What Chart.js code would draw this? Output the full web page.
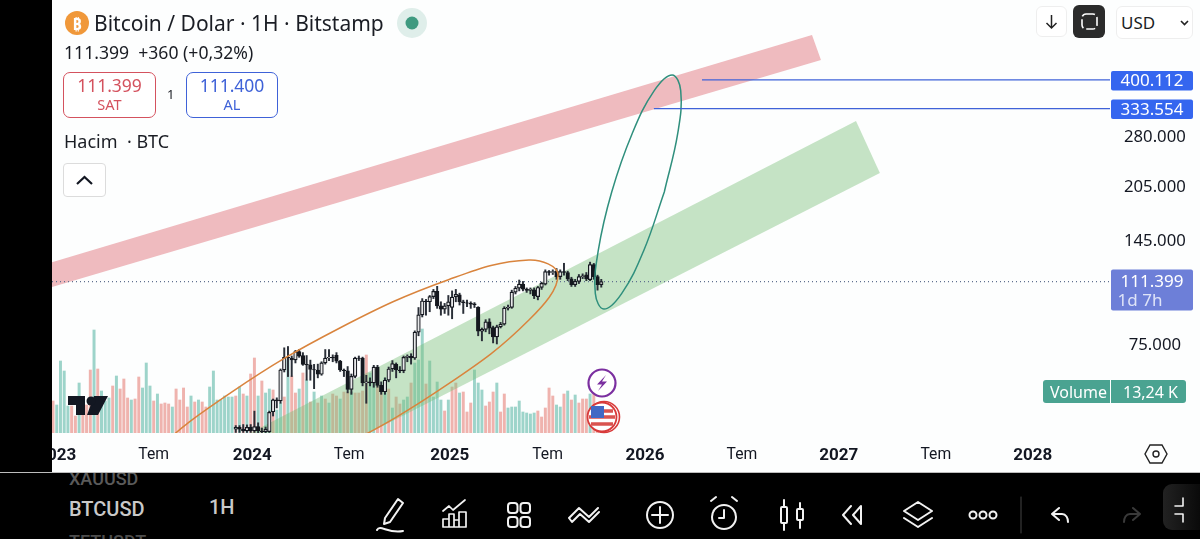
<!DOCTYPE html>
<html><head><meta charset="utf-8">
<style>
html,body{margin:0;padding:0;background:#000;width:1200px;height:539px;overflow:hidden;font-family:"Noto Sans",sans-serif;color:#131722}
#pane{position:absolute;left:52px;top:0;width:1148px;height:472px;background:#fdfefe}
canvas{position:absolute;left:0;top:0}
.t{position:absolute;white-space:nowrap;line-height:1}
.box{position:absolute;box-sizing:border-box;background:#fff}
svg{position:absolute;overflow:visible}
.ic{fill:none;stroke:#f2f2f2;stroke-width:2;stroke-linecap:round;stroke-linejoin:round}
</style></head><body>
<div id="pane"><canvas id="c" width="1148" height="472"></canvas></div>
<div class="t" style="left:0;top:472px;width:1200px;height:1px;background:#bdbdbd"></div>

<svg style="left:65px;top:11px" width="24" height="24"><circle cx="12" cy="12" r="12" fill="#f0983a"/></svg>
<div class="t" style="left:65px;top:13px;width:24px;text-align:center;font:700 16px 'Noto Sans';color:#fff">₿</div>
<div class="t" id="title" style="left:94px;top:13px;font-size:21px;color:#1a1d24">Bitcoin / Dolar · 1H · Bitstamp</div>
<svg style="left:397px;top:8px" width="30" height="30"><circle cx="15" cy="15" r="15" fill="#dfeeea"/><circle cx="15" cy="15" r="6.5" fill="#3f9a80"/></svg>
<div class="t" style="left:64px;top:44px;font-size:17.6px;color:#1a1d24">111.399 &nbsp;+360 (+0,32%)</div>
<div class="box" style="left:63px;top:72px;width:93px;height:46px;border:1.5px solid #d4525e;border-radius:7px"></div>
<div class="t" style="left:63px;top:77px;width:93px;text-align:center;font-size:17.5px;color:#d4525e">111.399</div>
<div class="t" style="left:63px;top:97px;width:93px;text-align:center;font-size:14.5px;color:#d4525e">SAT</div>
<div class="t" style="left:167px;top:88px;font-size:13px;color:#1a1d24">1</div>
<div class="box" style="left:186px;top:72px;width:92px;height:46px;border:1.5px solid #3f62d8;border-radius:7px"></div>
<div class="t" style="left:186px;top:77px;width:92px;text-align:center;font-size:17.5px;color:#3f62d8">111.400</div>
<div class="t" style="left:186px;top:97px;width:92px;text-align:center;font-size:14.5px;color:#3f62d8">AL</div>
<div class="t" style="left:64px;top:132px;font-size:18px;color:#1a1d24">Hacim &nbsp;· BTC</div>
<div class="box" style="left:63px;top:163px;width:43px;height:34px;border:1px solid #dcdcdc;border-radius:4px"></div>
<svg style="left:63px;top:163px" width="43" height="34"><path d="M14 21 L21.5 14 L29 21" fill="none" stroke="#131722" stroke-width="2.2"/></svg>

<div class="box" style="left:1036px;top:6px;width:31px;height:31px;border:1px solid #eee;border-radius:6px"></div>
<svg style="left:1036px;top:6px" width="31" height="31"><path d="M15.5 9 V22 M10.5 17 L15.5 22 L20.5 17" fill="none" stroke="#222" stroke-width="1.5"/></svg>
<div class="box" style="left:1073px;top:5px;width:32px;height:33px;background:#2b2b2b;border-radius:6px"></div>
<svg style="left:1073px;top:5px" width="32" height="33"><rect x="9" y="9" width="15" height="15" rx="4" fill="none" stroke="#fff" stroke-width="1.6" stroke-dasharray="9 3"/></svg>
<div class="box" style="left:1116px;top:6px;width:77px;height:33px;border:1px solid #eee;border-radius:6px"></div>
<div class="t" style="left:1121px;top:14px;font-size:17px;color:#1a1d24">USD</div>
<svg style="left:1180px;top:20px" width="10" height="6"><path d="M1 1 L4.5 4.5 L8 1" fill="none" stroke="#222" stroke-width="1.6"/></svg>

<svg style="left:68px;top:395px;z-index:2" width="40" height="21"><path d="M0 1H17V20H8V10H0Z M26 1 L40 1 L30 20 L19 20Z" fill="#131722"/><circle cx="23" cy="6" r="4.5" fill="#131722"/></svg>

<svg style="left:587px;top:368px" width="30" height="30"><circle cx="15" cy="15" r="13.5" fill="#fff" stroke="#7b2fa0" stroke-width="2.2"/><path d="M19 7 L10 16.5 H15 L11 23 L20 13.5 H15Z" fill="#7b2fa0"/></svg>
<svg style="left:585px;top:400px" width="36" height="34"><circle cx="19" cy="17" r="15.5" fill="none" stroke="#d83a3a" stroke-width="1.6"/><circle cx="17" cy="17" r="14.5" fill="#fff" stroke="#d83a3a" stroke-width="1.8"/><path d="M6 11H28M4 17H30M6 24H28" stroke="#d9534f" stroke-width="3.4"/><rect x="6" y="6" width="13" height="12" fill="#4169c4"/></svg>

<div class="box" style="left:1043px;top:380px;width:143px;height:23px;background:#4aa391;border-radius:3px"></div>
<div class="t" style="left:1050px;top:384px;font-size:16px;color:#fff">Volume</div>
<div class="t" style="left:1110px;top:380px;width:1px;height:23px;background:#fff"></div>
<div class="t" style="left:1123px;top:384px;font-size:16px;color:#fff">13,24 K</div>

<svg style="left:1144px;top:443px" width="24" height="22"><path d="M6 2H18L23 11L18 20H6L1 11Z" fill="none" stroke="#222" stroke-width="1.4"/><circle cx="12" cy="11" r="3" fill="none" stroke="#222" stroke-width="1.4"/></svg>

<div class="t" style="left:69px;top:468px;font:500 18px Roboto;color:#5a5a5a;clip-path:inset(5px 0 0 0)">XAUUSD</div>
<div class="t" style="left:69px;top:497px;font:500 20px Roboto;color:#c9c9c9">BTCUSD</div>
<div class="t" style="left:69px;top:531px;font:500 18px Roboto;color:#4d4d4d">TETUSDT</div>
<div class="t" style="left:209px;top:495px;font:500 20px Roboto;color:#c9c9c9">1H</div>

<svg class="ic" style="left:0;top:0" width="1200" height="539">
<path d="M385 518 L398 499 L403 503 L390 522 L384 524Z M377 530 C380 524 388 534 403 531"/>
<path d="M443 511 L449 506 L453 510 L465 500 M443 527 V519 H449 M449 527 V514 H454 V527 M454 527 V520 H459 V527 M459 527 V512 H466 V527 M443 527 H466" stroke-width="1.7"/>
<rect x="508" y="503" width="9.5" height="10" rx="3"/><rect x="520.5" y="503" width="9.5" height="10" rx="3"/><rect x="508" y="517" width="9.5" height="10" rx="3"/><rect x="520.5" y="517" width="9.5" height="10" rx="3"/>
<path d="M569 518 L579 508 L589 517 L598 508 M569 518 L572 522 L580 514 L589 522 L599 512"/>
<circle cx="660" cy="515" r="13"/><path d="M660 507V523M652 515H668"/>
<circle cx="724" cy="517" r="12"/><path d="M724 510V518H719M711 501L716 497M737 501L732 497"/>
<path d="M784 500V530M800 503V528"/><rect x="781" y="507" width="6" height="16" rx="1" fill="#000"/><rect x="797" y="509" width="6" height="11" rx="1" fill="#000"/>
<path d="M851 506L843 515L851 524M861 506L853 515L861 524V506Z"/>
<path d="M918 502L932 511L918 520L904 511Z M904 518L918 527L932 518"/>
<circle cx="973" cy="515" r="3.5"/><circle cx="983" cy="515" r="3.5"/><circle cx="993" cy="515" r="3.5"/>
<path d="M1021 497V533" stroke="#444" stroke-width="1"/>
<path d="M1059 508L1052 514L1059 520M1052 514H1062C1066 514 1068 518 1068 522"/>
<path d="M1133 508L1140 514L1133 520M1140 514H1130C1126 514 1124 518 1124 522" stroke="#3a3a3a"/>
</svg>
<div class="box" style="left:1163px;top:484px;width:37px;height:46px;background:linear-gradient(90deg,#222,#0a0a0a);border-radius:9px 0 0 9px"></div>
<svg class="ic" style="left:1163px;top:484px" width="37" height="46"><path d="M12 22H20V14M12 30H20V38" stroke-width="1.6"/></svg>

<script src="https://cdn.jsdelivr.net/npm/chart.js@4"></script>
<script>
// x unit = weekly bar number; y unit = thousand USD; volume unit = thousand BTC
const xTickValues=[1,27,53.4,79.4,106.4,132.6,158.7,184.7,210.7,236.7,262.7];
const xTickLabels=['2023','Tem','2024','Tem','2025','Tem','2026','Tem','2027','Tem','2028'];
const yTickValues=[75,145,205,280];
const yTickLabels=['75.000','145.000','205.000','280.000'];
const lastPrice=111.399;
const targetHigh=400.112;
const targetLow=333.554;

const volumes=[32,28,72,62,27,27,17,50,25,28,63,103,64,42,32,35,47,57,44,54,35,33,34,56,45,70,47,32,39,29,30,29,26,44,33,45,26,37,31,33,31,26,46,62,33,33,37,36,36,37,46,39,37,
59,75,37,52,40,44,43,23,30,36,73,57,40,44,60,53,31,41,30,37,34,30,39,37,34,41,41,41,40,40,42,78,60,66,48,42,55,44,25,36,29,33,36,50,70,73,104,
49,72,36,51,33,22,33,46,50,40,41,21,30,63,50,43,27,31,41,50,21,39,25,26,26,32,21,20,19,20,22,16,25,45,37,28,26,39,42,33,38,30,34,34,39,40,25,13.24];
const volumeDirs='rgggg'+'rrgrr'+'rgrgg'+'grgrr'+'rgrrg'+'ggrgr'+'rrgrr'+'rrgrg'+'rrggg'+'ggggr'+'gr'+'gr'+'rgrgg'+'rggrg'+'rrgrg'+'rgrgr'+'grrgr'+'rgrrr'+'rgg'+'rr'+'grgrr'+'ggrgg'+'grggg'+'grgrr'+'grrrg'+'ggrrr'+'grrgg'+'ggggg'+'grrrr'+'rggrg'+'rgrrr'+'grrrg'+'rrr';

const firstCandle=49;
const opens=[43.7,44.2,43.7,43.2,44.2,43.2,44.4,43.2,43.0,43.0,48.8,52.6,52.3,63.6,68.9,68.6,67.8,71.5,69.7,65.9,65.7,63.8,63.6,61.9,66.5,68.6,68.9,69.8,67.2,63.6,63.3,56.2,61.1,68.6,68.6,58.6,59,58.6,64.8,57.7,55.4,59.6,64,65.9,63.6,63.3,68.9,69.4,68.6,80.8,
90.2,98.5,98,101.3,104.7,95.5,93.5,95.5,94.6,101.3,102.4,98,97.4,97.2,96.8,94.6,81.3,82.3,86.3,83.2,78.4,83.6,85,94.1,94.6,104.2,106.8,109.6,106.2,105.3,105.7,101.3,107.3,109.6,118.6,118,119.1,115,118.6,118,113.3,109.3,111.5,115,116.2,112.8,124,115,109.3];
const closes=[44.2,43.7,43.2,44.2,43.2,44.4,43.2,43.0,43.7,48.6,52.6,52.3,63.6,68.9,68.6,67.8,71.5,69.4,65.9,65.7,63.8,63.6,61.9,66.5,68.6,68.9,68.6,67.2,63.6,63.3,56.2,61.1,68.6,68.4,58.6,59,58.6,64.8,57.7,55.4,59.6,64,66.2,63.6,63.3,68.9,69.4,68.6,80.8,90.2,
98.5,98,101.3,104.7,95.5,93.5,95.5,98,100.9,102.8,98,97.4,97.2,96.6,96.2,81.3,82.3,86.3,82.9,78.4,83.6,85,94.1,94.6,104.2,106.8,109.6,106.2,105.3,106.2,101.8,107.3,110.2,118.6,118,118.6,115,118.6,118,113.3,109.3,111.5,115,115.5,113.3,124,115,109.3,111.4];
const highs=[44.7,44.7,45,44.9,45,49,45.5,44,44.3,49,52.9,53.3,64,73.2,73.8,69.5,72,72.5,71,69.7,67.7,65.9,66,67,72.4,72.4,70,71,67.6,64,65,62,69,69.5,69,61.5,60.5,65.5,65.5,59,60.5,64.8,67.5,66.5,65,69.5,70,70.5,81.5,94.5,
100,99.5,102,106,108.1,98,97,102,105,106,103.5,99,99,98,97.5,95,83,87.5,88,84,84.5,86,95,96,105.5,108,112.5,111.5,107,107,107,108,111,120,119.5,120,121,120,125.1,119,114.5,113,116.5,117,118,126,125,116,113];
const lows=[42.8,42.8,42.8,42.8,42.8,42.8,42.6,42.6,42.6,42.8,47.5,50,51.5,62.8,61,61,66.5,68.9,65.5,59.6,59.6,56.5,60.5,61.5,66,67.5,67,66.5,63,61,55,54.5,60.5,67.5,57.5,51.5,57.5,57,57,54.5,54.5,59,63,60.5,62.5,62.5,67,66,68,79,
89,90,92,100,94,90,91,90,88,98,96,91,95,94,94.5,79,76.5,81,80,75.5,75,83,84.5,93,94,103,105,105,104,103,100,99.2,106,109,116,116.5,113,113,116,112,108,108,110,113.5,112,112,113,105.5,107.5];

// drawings: [bar number, price]
const redBandX=[-1,203.5,205.9,-1];
const redBandY=[125.3,532,454,107];
const greenBandX=[52.8,215.3,221.7,84.7];
const greenBandY=[42.65,308.5,221.9,42.65];
const orangeX=[18.5,26.3,47.7,76.9,106.2,127.6,135.4,127.6,106.2,76.9,47.7,26.3,18.5];
const orangeY=[27.7,36.9,55.1,83,112.9,127.7,116.2,87.3,58.4,38.8,28.5,25.2,27.7];
const tealX=[163.9,158.4,152.5,147.7,145.4,146.2,149.8,155.3,161.2,166,168.3,167.5,163.9];
const tealY=[196.6,135.7,103.4,93.6,103.4,135.7,196.6,284.9,373.8,412.9,373.8,284.9,196.6];
const lineHighStart=174, lineLowStart=161.1;
const xMin=-0.27, xMax=283.4, yMin=42.65, yMax=664;

const pts=(xs,ys)=>xs.map((x,i)=>({x,y:ys[i]}));
const poly=(xs,ys,color,order)=>({type:'line',data:pts(xs,ys),yAxisID:'y',borderWidth:0,borderColor:'transparent',backgroundColor:color,fill:'shape',pointRadius:0,order});
const curve=(xs,ys,color,order)=>({type:'line',data:pts(xs,ys),yAxisID:'y',borderColor:color,borderWidth:1.5,fill:false,tension:0.4,pointRadius:0,order});
const hline=(x0,y,color,w,dash,order)=>({type:'line',data:[{x:x0,y},{x:xMax,y}],yAxisID:'y',borderColor:color,borderWidth:w,borderDash:dash,fill:false,pointRadius:0,order});
const cIdx=opens.map((_,i)=>firstCandle+i);

const tagPlugin={id:'tags',afterDraw(ch){
  const g=ch.ctx,y=ch.scales.y,l=ch.chartArea.right+1;
  const lab=(v,txt,col)=>{const p=y.getPixelForValue(v);g.fillStyle=col;g.beginPath();g.roundRect(l,p-9,82,19.5,2);g.fill();
    g.fillStyle='#fff';g.font='17px "Noto Sans"';g.textAlign='center';g.textBaseline='middle';g.fillText(txt,l+41,p+1.5);};
  lab(targetHigh,'400.112','#3566ef');lab(targetLow,'333.554','#3566ef');
  const p=y.getPixelForValue(lastPrice);g.fillStyle='#6d7fd8';g.beginPath();g.roundRect(l,p-12,82,41,2);g.fill();
  g.fillStyle='#fff';g.font='17px "Noto Sans"';g.textAlign='center';g.textBaseline='middle';g.fillText('111.399',l+41,p+1);
  g.fillStyle='#dfe4f8';g.fillText('1d 7h',l+29,p+19.5);
}};

new Chart(document.getElementById('c'),{
  data:{datasets:[
    {type:'bar',label:'Volume',yAxisID:'yv',grouped:false,barThickness:2.3,borderWidth:0,order:50,
     data:volumes.map((v,i)=>({x:i,y:v})),
     backgroundColor:volumes.map((_,i)=>volumeDirs[i]==='g'?'rgba(62,170,150,.5)':'rgba(226,110,100,.52)')},
    poly(redBandX,redBandY,'rgba(226,120,128,.5)',45),
    poly(greenBandX,greenBandY,'rgba(120,190,120,.42)',44),
    hline(xMin,lastPrice,'#5f6f8f',1.2,[1,3],35),
    {type:'bar',label:'Wick',yAxisID:'y',grouped:false,barThickness:1.3,borderWidth:0,order:30,backgroundColor:'#2a2f38',
     data:cIdx.map((x,i)=>({x,y:[lows[i],highs[i]]}))},
    {type:'bar',label:'Candle',yAxisID:'y',grouped:false,barThickness:3.6,borderWidth:1.2,borderSkipped:false,borderColor:'#15181f',order:20,
     data:cIdx.map((x,i)=>({x,y:[opens[i],closes[i]]})),
     backgroundColor:cIdx.map((_,i)=>closes[i]>=opens[i]?'#e8e9ea':'#15181f')},
    curve(orangeX,orangeY,'#d9843d',10),
    curve(tealX,tealY,'#2f8f7d',10),
    hline(lineHighStart,targetHigh,'#3f62d8',1.3,[],9),
    hline(lineLowStart,targetLow,'#3f62d8',1.3,[],9)
  ]},
  options:{
    responsive:false,animation:false,devicePixelRatio:1,
    layout:{padding:0},
    plugins:{legend:{display:false},tooltip:{enabled:false}},
    scales:{
      x:{type:'linear',offset:false,min:xMin,max:xMax,bounds:'data',grid:{display:false,drawTicks:false},border:{display:false},
        afterBuildTicks(s){s.ticks=xTickValues.map(value=>({value}));},
        afterFit(s){s.paddingLeft=0;s.paddingRight=0;s.height=39;},
        ticks:{autoSkip:false,maxRotation:0,minRotation:0,padding:13,includeBounds:false,color:'#131722',
          callback:(v,i)=>xTickLabels[i],
          font:c=>xTickLabels[c.index]==='Tem'?{family:'Roboto',size:15.7,weight:'400'}:{family:'Roboto',size:17,weight:'700'}}},
      y:{type:'logarithmic',position:'right',min:yMin,max:yMax,bounds:'data',grid:{display:false,drawTicks:false},border:{display:false},
        afterBuildTicks(s){s.ticks=yTickValues.map(value=>({value}));},
        afterFit(s){s.width=90;s.paddingTop=0;s.paddingBottom=0;},
        ticks:{autoSkip:false,padding:14,crossAlign:'center',color:'#131722',font:{family:'Noto Sans',size:16.7,lineHeight:'3px'},
          callback:(v,i)=>['',yTickLabels[i]]}},
      yv:{type:'linear',display:false,min:0,max:433}
    }
  },
  plugins:[tagPlugin]
});
</script>
</body></html>
